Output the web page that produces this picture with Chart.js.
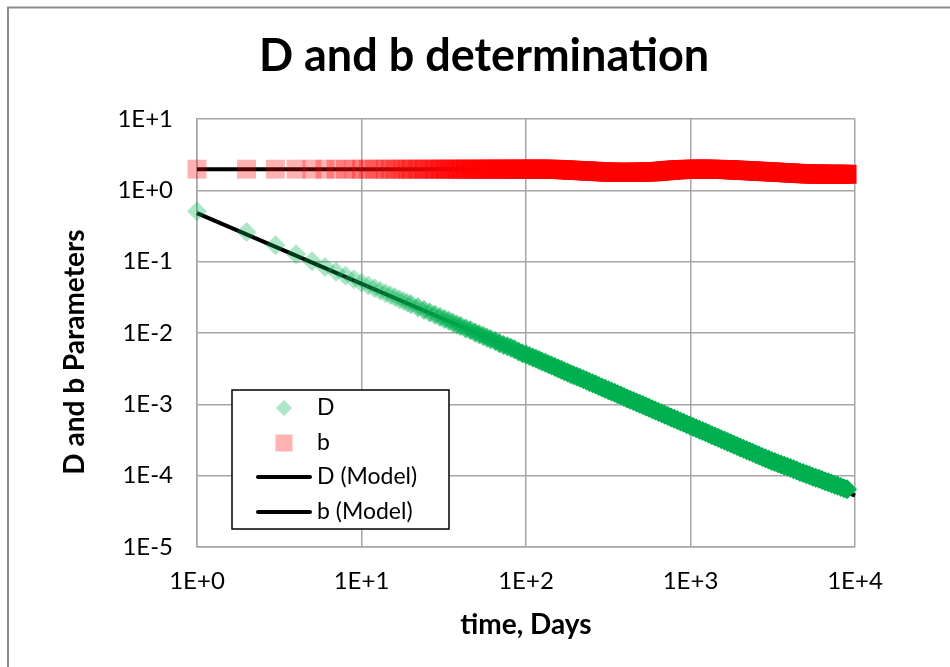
<!DOCTYPE html>
<html lang="en">
<head>
<meta charset="UTF-8">
<title>D and b determination</title>
<script src="https://cdn.jsdelivr.net/npm/chart.js"></script>
<style>
  html, body { margin: 0; padding: 0; background: #fff; }
  #wrap { width: 950px; height: 667px; }
</style>
</head>
<body>
<div id="wrap"><canvas id="chart" width="950" height="667"></canvas></div>
<script>
const days = [
  1, 2, 3, 4, 5, 6, 7, 8, 9, 10, 11, 12, 13, 14, 15, 16, 17, 18, 19, 20,
  22, 24, 26, 28, 30, 32, 34, 36, 38, 40,
  43, 46, 49, 52, 55, 58, 61, 65, 69, 73, 77, 81, 85, 90, 95, 100,
  105, 110, 115, 120, 125, 131, 137, 143, 150, 157, 164, 171, 179, 187, 195,
  204, 213, 223, 233, 243, 254, 265, 277, 290, 303, 317, 331, 346, 361, 377,
  394, 412, 430, 450, 470, 491, 513, 536, 560, 585, 611, 639, 668, 698, 729,
  762, 796, 832, 869, 908, 949, 992,
  1037, 1083, 1132, 1183, 1236, 1292, 1350, 1411, 1474, 1540, 1610, 1682, 1758,
  1837, 1920, 2006, 2096, 2191, 2289, 2392, 2500, 2612, 2730, 2853, 2981, 3115,
  3256, 3402, 3555, 3715, 3882, 4057, 4240, 4430, 4630, 4838, 5056, 5283, 5521,
  5770, 6029, 6301, 6584, 6880, 7190, 7513, 7851, 8205, 8574, 8950
];
const dValues = [
  0.51, 0.26, 0.17, 0.127, 0.101, 0.084, 0.072, 0.0635, 0.0565, 0.0508,
  0.0462, 0.0423, 0.039, 0.0362, 0.0338, 0.0317, 0.0298, 0.0281, 0.0266, 0.0252,
  0.0229, 0.021, 0.0194, 0.018, 0.0168, 0.0157, 0.0148, 0.0139, 0.0132, 0.0125,
  0.0116, 0.0109, 0.0102, 0.0096, 0.0091, 0.0086, 0.0082, 0.0077, 0.0072, 0.0068,
  0.0065, 0.0062, 0.0059, 0.0055, 0.0052, 0.0050,
  0.00476, 0.00455, 0.00435, 0.00417, 0.0040, 0.00382, 0.00365, 0.0035, 0.00333, 0.00318,
  0.00305, 0.00292, 0.00279, 0.00267, 0.00256, 0.00245, 0.00235, 0.00224, 0.00215, 0.00206,
  0.00197, 0.00189, 0.0018, 0.00172, 0.00165, 0.00158, 0.00151, 0.00145, 0.00139, 0.00133,
  0.00127, 0.00121, 0.00116, 0.00111, 0.00106, 0.00102, 0.000975, 0.000933, 0.000893, 0.000855,
  0.000818, 0.000782, 0.000749, 0.000716, 0.000686, 0.000656, 0.000628, 0.000601, 0.000575, 0.000551,
  0.000527, 0.000504,
  0.000482, 0.000462, 0.000442, 0.000423, 0.000405, 0.000387, 0.00037, 0.000354, 0.000339, 0.000325,
  0.000311, 0.000297, 0.000284, 0.000272, 0.00026, 0.000249, 0.000239, 0.000228, 0.000218, 0.000209,
  0.0002, 0.000191, 0.000183, 0.000175, 0.000168, 0.000161, 0.000155, 0.000149, 0.000143, 0.000138,
  0.000133, 0.000128, 0.000123, 0.000118, 0.000113, 0.000109, 0.000105, 0.000101, 0.0000969, 0.0000936,
  0.0000904, 0.0000869, 0.0000835, 0.0000807, 0.0000775, 0.0000746, 0.000072, 0.0000691, 0.0000665, 0.0000643
];
const bValues = [
  1.98, 1.98, 1.98, 1.98, 1.98, 1.98, 1.98, 1.98, 1.98, 1.98,
  1.98, 1.98, 1.98, 1.98, 1.98, 1.98, 1.98, 1.98, 1.98, 1.98,
  1.98, 1.98, 1.98, 1.98, 1.98, 1.98, 1.98, 1.98, 1.98, 1.98,
  1.98, 1.98, 1.98, 1.98, 1.98, 1.98, 1.98, 1.98, 1.98, 1.98,
  1.98, 1.98, 1.98, 1.98, 1.98, 1.98,
  1.98, 1.98, 1.98, 1.98, 1.98, 1.98, 1.98, 1.97, 1.97, 1.96,
  1.95, 1.94, 1.93, 1.92, 1.91, 1.90, 1.89, 1.88, 1.87, 1.86,
  1.85, 1.84, 1.83, 1.82, 1.81, 1.80, 1.80, 1.79, 1.79, 1.79,
  1.79, 1.79, 1.79, 1.79, 1.80, 1.80, 1.80, 1.81, 1.81, 1.82,
  1.83, 1.84, 1.86, 1.88, 1.90, 1.91, 1.93, 1.94, 1.95, 1.96,
  1.97, 1.97,
  1.98, 1.98, 1.98, 1.98, 1.98, 1.98, 1.97, 1.97, 1.97, 1.96,
  1.96, 1.95, 1.94, 1.93, 1.92, 1.91, 1.90, 1.89, 1.88, 1.87,
  1.86, 1.85, 1.84, 1.83, 1.82, 1.81, 1.80, 1.79, 1.78, 1.77,
  1.76, 1.75, 1.74, 1.73, 1.72, 1.71, 1.70, 1.70, 1.69, 1.69,
  1.69, 1.69, 1.68, 1.68, 1.68, 1.68, 1.68, 1.68, 1.68, 1.68
];

// fitted model lines (straight on log-log axes)
const modelDays = [1, 10000];
const dModel = [0.48, 0.0000525];
const bModel = [1.97, 1.97];

const seriesNames = ['D', 'b', 'D (Model)', 'b (Model)'];
const xTickValues = [1, 10, 100, 1000, 10000];
const xTickLabels = ['1E+0', '1E+1', '1E+2', '1E+3', '1E+4'];
const yTickValues = [1e-5, 1e-4, 1e-3, 1e-2, 1e-1, 1, 10];
const yTickLabels = ['1E-5', '1E-4', '1E-3', '1E-2', '1E-1', '1E+0', '1E+1'];

const FONT = 'Lato';
const GRID = '#a6a6a6';

// each sample stands in for the daily markers around it, so later
// (sparser sampled) points get the opacity of many stacked markers
function densityColor(rgb, alpha) {
    return ctx => {
        const i = ctx.dataIndex;
        if (i === undefined) return `rgba(${rgb},${alpha})`;
        const prev = i > 0 ? days[i - 1] : days[i] - 1;
        const next = i < days.length - 1 ? days[i + 1] : days[i] + 1;
        const n = Math.max(1, (next - prev) / 2);
        const a = 1 - Math.pow(1 - alpha, n);
        return `rgba(${rgb},${a.toFixed(3)})`;
    };
}

const frame = {
    id: 'frame',
    beforeDraw(chart) {
        const ctx = chart.ctx;
        ctx.save();
        ctx.strokeStyle = '#8c8c8c';
        ctx.lineWidth = 2;
        ctx.strokeRect(8, 7.5, 980, 700);
        ctx.restore();
    }
};

const yTitle = {
    id: 'yTitle',
    afterDraw(chart) {
        const ctx = chart.ctx;
        ctx.save();
        ctx.translate(75, 352);
        ctx.rotate(-Math.PI / 2);
        ctx.font = `bold 28px ${FONT}`;
        ctx.fillStyle = '#000';
        ctx.textAlign = 'center';
        ctx.textBaseline = 'middle';
        ctx.fillText('D and b Parameters', 0, 0);
        ctx.restore();
    }
};

// boxed legend sitting inside the plot area
const legendBox = {
    id: 'legendBox',
    afterDraw(chart) {
        const ctx = chart.ctx;
        const x0 = 232, y0 = 390, w = 217, h = 139;
        const rows = [408, 443, 477, 512];
        ctx.save();
        ctx.fillStyle = '#fff';
        ctx.fillRect(x0, y0, w, h);
        ctx.strokeStyle = '#000';
        ctx.lineWidth = 1.5;
        ctx.strokeRect(x0, y0, w, h);

        // D marker
        ctx.fillStyle = 'rgba(0,176,80,0.32)';
        ctx.beginPath();
        ctx.moveTo(284 - 8, rows[0]);
        ctx.lineTo(284, rows[0] - 8);
        ctx.lineTo(284 + 8, rows[0]);
        ctx.lineTo(284, rows[0] + 8);
        ctx.closePath();
        ctx.fill();
        // b marker
        ctx.fillStyle = 'rgba(255,0,0,0.3)';
        ctx.fillRect(284 - 8.5, rows[1] - 8.5, 17, 17);
        // model lines
        ctx.strokeStyle = '#000';
        ctx.lineWidth = 4;
        ctx.lineCap = 'round';
        [rows[2], rows[3]].forEach(y => {
            ctx.beginPath();
            ctx.moveTo(258, y);
            ctx.lineTo(310, y);
            ctx.stroke();
        });

        ctx.font = `23px ${FONT}`;
        ctx.fillStyle = '#000';
        ctx.textAlign = 'left';
        ctx.textBaseline = 'middle';
        seriesNames.forEach((name, i) => ctx.fillText(name, 317, rows[i]));
        ctx.restore();
    }
};

const toPoints = (xs, ys) => xs.map((x, i) => ({ x: x, y: ys[i] }));

new Chart(document.getElementById('chart'), {
    type: 'scatter',
    data: {
        datasets: [
            {
                label: seriesNames[0],
                data: toPoints(days, dValues),
                pointStyle: 'rectRot',
                pointRadius: 10,
                pointHoverRadius: 10,
                pointBorderWidth: 0,
                pointBackgroundColor: densityColor('0,176,80', 0.32),
                showLine: false,
                clip: false
            },
            {
                label: seriesNames[1],
                data: toPoints(days, bValues),
                pointStyle: 'rect',
                pointRadius: 13.4,
                pointHoverRadius: 13.4,
                pointBorderWidth: 0,
                pointBackgroundColor: densityColor('255,0,0', 0.3),
                showLine: false,
                clip: false
            },
            {
                label: seriesNames[2],
                data: toPoints(modelDays, dModel),
                showLine: true,
                borderColor: '#000',
                borderWidth: 4,
                pointRadius: 0,
                clip: false
            },
            {
                label: seriesNames[3],
                data: toPoints(modelDays, bModel),
                showLine: true,
                borderColor: '#000',
                borderWidth: 4,
                pointRadius: 0,
                clip: false
            }
        ]
    },
    options: {
        responsive: false,
        animation: false,
        devicePixelRatio: 1,
        layout: { padding: { left: 18, right: 0, top: 0, bottom: 0 } },
        plugins: {
            legend: { display: false },
            tooltip: { enabled: false },
            title: {
                display: true,
                text: 'D and b determination',
                color: '#000',
                font: { family: FONT, size: 45, weight: 'bold', lineHeight: 1.2 },
                padding: { top: 29, bottom: 36 }
            }
        },
        scales: {
            x: {
                type: 'logarithmic',
                min: 1,
                max: 10000,
                afterBuildTicks: s => { s.ticks = xTickValues.map(v => ({ value: v })); },
                afterFit: s => { s.height = 120; },
                grid: { color: GRID, lineWidth: 1.5, drawTicks: false },
                border: { color: GRID, width: 1.5 },
                ticks: {
                    padding: 20,
                    autoSkip: false,
                    maxRotation: 0,
                    color: '#000',
                    font: { family: FONT, size: 24 },
                    callback: (v, i) => xTickLabels[i]
                },
                title: {
                    display: true,
                    text: 'time, Days',
                    color: '#000',
                    font: { family: FONT, size: 28, weight: 'bold', lineHeight: 1.2 },
                    padding: { top: 0, bottom: 25 }
                }
            },
            y: {
                type: 'logarithmic',
                min: 1e-5,
                max: 10,
                afterBuildTicks: s => { s.ticks = yTickValues.map(v => ({ value: v })); },
                afterFit: s => { s.width = 179; },
                grid: { color: GRID, lineWidth: 1.5, drawTicks: false },
                border: { color: GRID, width: 1.5 },
                ticks: {
                    padding: 24,
                    autoSkip: false,
                    color: '#000',
                    font: { family: FONT, size: 24 },
                    callback: (v, i) => yTickLabels[i]
                }
            },
            // empty right axis, only reserves the margin right of the plot
            yRight: {
                position: 'right',
                display: true,
                ticks: { display: false },
                grid: { display: false },
                border: { display: false },
                afterFit: s => { s.width = 95; }
            }
        }
    },
    plugins: [frame, yTitle, legendBox]
});
</script>
</body>
</html>
